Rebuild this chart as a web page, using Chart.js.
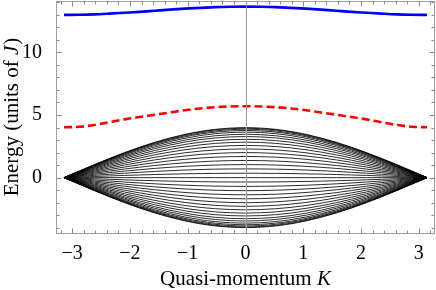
<!DOCTYPE html>
<html>
<head>
<meta charset="utf-8">
<script src="https://cdn.jsdelivr.net/npm/chart.js@4.4.1/dist/chart.umd.min.js"></script>
<style>
html,body{margin:0;padding:0;background:#fff;}
#wrap{width:436px;height:290px;position:relative;}
</style>
</head>
<body>
<div id="wrap"><canvas id="c" width="436" height="290"></canvas></div>
<script>
// Sample momenta K (from -pi to pi)
const K = [-3.1416,-2.8798,-2.6180,-2.3562,-2.0944,-1.8326,-1.5708,-1.3090,-1.0472,-0.7854,-0.5236,-0.2618,0,
           0.2618,0.5236,0.7854,1.0472,1.3090,1.5708,1.8326,2.0944,2.3562,2.6180,2.8798,3.1416];
// Shape of the continuum envelope (normalised to 1 at K=0)
const bandProfile = [0,0.130,0.259,0.383,0.500,0.609,0.707,0.793,0.866,0.924,0.966,0.991,1,
                     0.991,0.966,0.924,0.866,0.793,0.707,0.609,0.500,0.383,0.259,0.130,0];
// Energies of the continuum lines at K=0
const bandLevels = [3.99,3.94,3.86,3.76,3.63,3.46,3.28,3.06,2.83,2.57,2.29,2.00,1.69,1.37,1.04,0.70,0.35,0,
                    -0.35,-0.70,-1.04,-1.37,-1.69,-2.00,-2.29,-2.57,-2.83,-3.06,-3.28,-3.46,-3.63,-3.76,-3.86,-3.94,-3.99];
// Upper bound state (blue)
const blueBand = [12.99,13.00,13.03,13.09,13.16,13.23,13.32,13.41,13.49,13.55,13.61,13.64,13.65,
                  13.64,13.61,13.55,13.49,13.41,13.32,13.23,13.16,13.09,13.03,13.00,12.99];
// Middle bound state (red dashed)
const redBand = [4.02,4.06,4.20,4.42,4.65,4.84,5.02,5.20,5.38,5.52,5.62,5.68,5.70,
                 5.68,5.62,5.52,5.38,5.20,5.02,4.84,4.65,4.42,4.20,4.06,4.02];
// Axis ticks
const xTicks = [-3,-2,-1,0,1,2,3];
const yTicks = [0,5,10];
const xRange = [-3.28, 3.28];
const yRange = [-4.5, 14.1];

const pts = arr => K.map((k,i)=>({x:k, y:arr[i]}));
const datasets = [];
bandLevels.forEach(lv=>{
  datasets.push({data: K.map((k,i)=>({x:k, y:lv*bandProfile[i]})), borderColor:'rgba(0,0,0,0.92)', borderWidth:0.9,
    pointRadius:0, cubicInterpolationMode:'monotone', fill:false});
});
datasets.push({data: pts(redBand), borderColor:'#ff0000', borderWidth:2.6, borderDash:[8,4],
  pointRadius:0, cubicInterpolationMode:'monotone', fill:false});
datasets.push({data: pts(blueBand), borderColor:'#0000ff', borderWidth:2.6,
  pointRadius:0, cubicInterpolationMode:'monotone', fill:false});

const framePlugin = {
  id:'frame',
  afterDatasetsDraw(chart){
    const {ctx, chartArea:a, scales:{x,y}} = chart;
    ctx.save();
    const x0 = Math.round(x.getPixelForValue(0))+0.5;
    ctx.strokeStyle='#9a9a9a'; ctx.lineWidth=1;
    ctx.beginPath(); ctx.moveTo(x0,a.top); ctx.lineTo(x0,a.bottom); ctx.stroke();
    ctx.strokeStyle='#a0a0a0';
    ctx.strokeRect(Math.round(a.left)+0.5, Math.round(a.top)+0.5, Math.round(a.right-a.left)-1, Math.round(a.bottom-a.top)-1);
    ctx.strokeStyle='#8a8a8a';
    ctx.beginPath();
    const L = Math.round(a.left)+0.5, R = Math.round(a.right)-0.5, T = Math.round(a.top)+0.5, B = Math.round(a.bottom)-0.5;
    for(let i=-16;i<=16;i++){
      const v=i*0.2; const px=Math.round(x.getPixelForValue(v))+0.5;
      const len = (i%5===0)?5:3;
      ctx.moveTo(px,B); ctx.lineTo(px,B-len);
      ctx.moveTo(px,T); ctx.lineTo(px,T+len);
    }
    for(let v=-4;v<=14;v++){
      const py=Math.round(y.getPixelForValue(v))+0.5;
      const len = (v%5===0)?5:3;
      ctx.moveTo(L,py); ctx.lineTo(L+len,py);
      ctx.moveTo(R,py); ctx.lineTo(R-len,py);
    }
    ctx.stroke();
    ctx.fillStyle='#000';
    ctx.textBaseline='alphabetic';
    const f='21px "Liberation Serif"', fi='italic 21px "Liberation Serif"';
    const t1='Quasi-momentum ', t2='K';
    ctx.font=f; const w1=ctx.measureText(t1).width; ctx.font=fi; const w2=ctx.measureText(t2).width;
    const cx=(a.left+a.right)/2; let sx=cx-(w1+w2)/2;
    ctx.font=f; ctx.fillText(t1,sx,285); ctx.font=fi; ctx.fillText(t2,sx+w1,285);
    const s1='Energy (units of ', s2='J', s3=')';
    ctx.font=f; const u1=ctx.measureText(s1).width, u3=ctx.measureText(s3).width; ctx.font=fi; const u2=ctx.measureText(s2).width;
    ctx.translate(18,(a.top+a.bottom)/2); ctx.rotate(-Math.PI/2);
    let sy=-(u1+u2+u3)/2;
    ctx.font=f; ctx.fillText(s1,sy,0); ctx.font=fi; ctx.fillText(s2,sy+u1,0); ctx.font=f; ctx.fillText(s3,sy+u1+u2+1,0);
    ctx.restore();
  }
};

const fmt = v => (v<0?'\u2212':'')+Math.abs(v);
new Chart(document.getElementById('c'),{
  type:'line',
  data:{datasets},
  plugins:[framePlugin],
  options:{
    responsive:false, animation:false, devicePixelRatio:1,
    layout:{padding:{top:1,right:1,left:0,bottom:0}},
    plugins:{legend:{display:false}, tooltip:{enabled:false}},
    scales:{
      x:{type:'linear', min:xRange[0], max:xRange[1],
        grid:{display:false}, border:{display:false},
        afterFit(s){s.height=56; s.paddingLeft=0; s.paddingRight=0;},
        afterBuildTicks(s){s.ticks = xTicks.map(v=>({value:v}));},
        ticks:{font:{family:'"Liberation Serif"', size:20}, color:'#000', padding:0, maxRotation:0, autoSkip:false,
          callback:v=>fmt(v)}},
      y:{type:'linear', min:yRange[0], max:yRange[1],
        grid:{display:false}, border:{display:false},
        afterFit(s){s.width=56; s.paddingTop=0; s.paddingBottom=0;},
        afterBuildTicks(s){s.ticks = yTicks.map(v=>({value:v}));},
        ticks:{font:{family:'"Liberation Serif"', size:20}, color:'#000', padding:6, autoSkip:false,
          callback:v=>fmt(v)}}
    }
  }
});
</script>
</body>
</html>
